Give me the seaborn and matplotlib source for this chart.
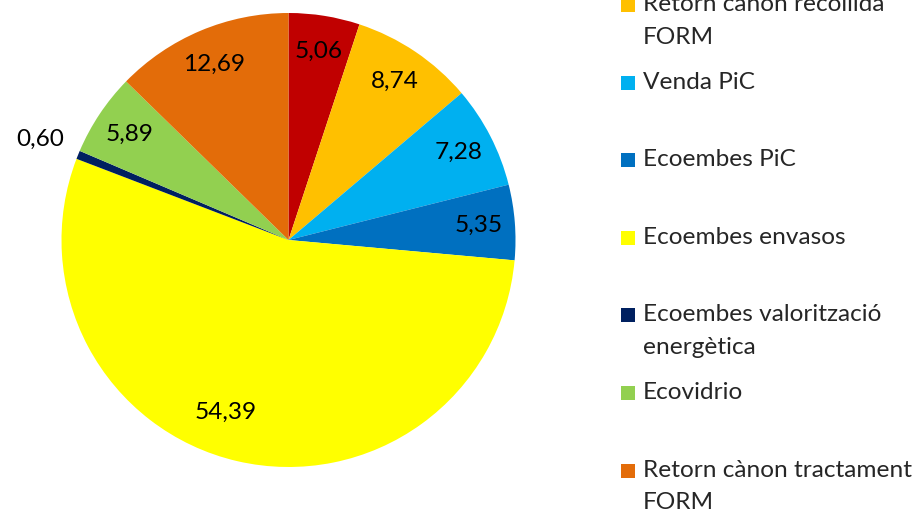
import matplotlib
matplotlib.use("Agg")
import matplotlib.pyplot as plt
import seaborn as sns
from matplotlib.patches import Rectangle

# -----------------------
# Data (clockwise from 12 o'clock)
# -----------------------
categories = [
    "Retorn cànon deposició",
    "Retorn cànon recollida\nFORM",
    "Venda PiC",
    "Ecoembes PiC",
    "Ecoembes envasos",
    "Ecoembes valorització\nenergètica",
    "Ecovidrio",
    "Retorn cànon tractament\nFORM",
]
values = [5.06, 8.74, 7.28, 5.35, 54.39, 0.60, 5.89, 12.69]
value_labels = ["5,06", "8,74", "7,28", "5,35", "54,39", "0,60", "5,89", "12,69"]
colors = ["#C00000", "#FFC000", "#00B0F0", "#0070C0",
          "#FFFF00", "#002060", "#92D050", "#E36C09"]

sns.set_theme(style="white")
plt.rcParams["font.family"] = ["Lato", "DejaVu Sans"]

W, H = 920, 514
FS = 17.6
fig = plt.figure(figsize=(W / 100, H / 100), dpi=100)

# pie axes: centre ~ (288.5, 240) px, radius ~227 px
cx, cy, r = 288.5, 240, 227
ax = fig.add_axes([(cx - r) / W, 1 - (cy + r) / H, 2 * r / W, 2 * r / H])

wedges, texts, autotexts = ax.pie(
    values, colors=colors, startangle=90, counterclock=False,
    radius=1, autopct=lambda p: "", pctdistance=0.84,
    wedgeprops=dict(linewidth=0), textprops=dict(fontsize=FS),
)
for at, lab, v in zip(autotexts, value_labels, values):
    at.set_text(lab)
    at.set_color("black")
    x, y = at.get_position()
    if v < 1:
        # tiny slice -> label placed outside
        at.set_position((x / 0.84 * 1.18, y / 0.84 * 1.18))
    elif v > 50:
        # big slice label sits a bit further in, like Excel does
        at.set_position((x * 0.93 - 0.1, y * 0.93))
ax.set_xlim(-1, 1)
ax.set_ylim(-1, 1)
ax.set_aspect("equal")
ax.axis("off")

# -----------------------
# Legend (drawn by hand, Excel style, top entry clipped by the figure)
# -----------------------
step = 77.6
first_y = 5 - step
for i, (lab, col) in enumerate(zip(categories, colors)):
    by = first_y + i * step
    fig.patches.append(Rectangle((621 / W, 1 - (by + 7) / H), 14 / W, 14 / H,
                                 transform=fig.transFigure, facecolor=col,
                                 edgecolor="none"))
    fig.text(643 / W, 1 - (by - 11) / H, lab, fontsize=FS, va="top", ha="left",
             linespacing=1.68)

fig.savefig("out.png", dpi=100)
